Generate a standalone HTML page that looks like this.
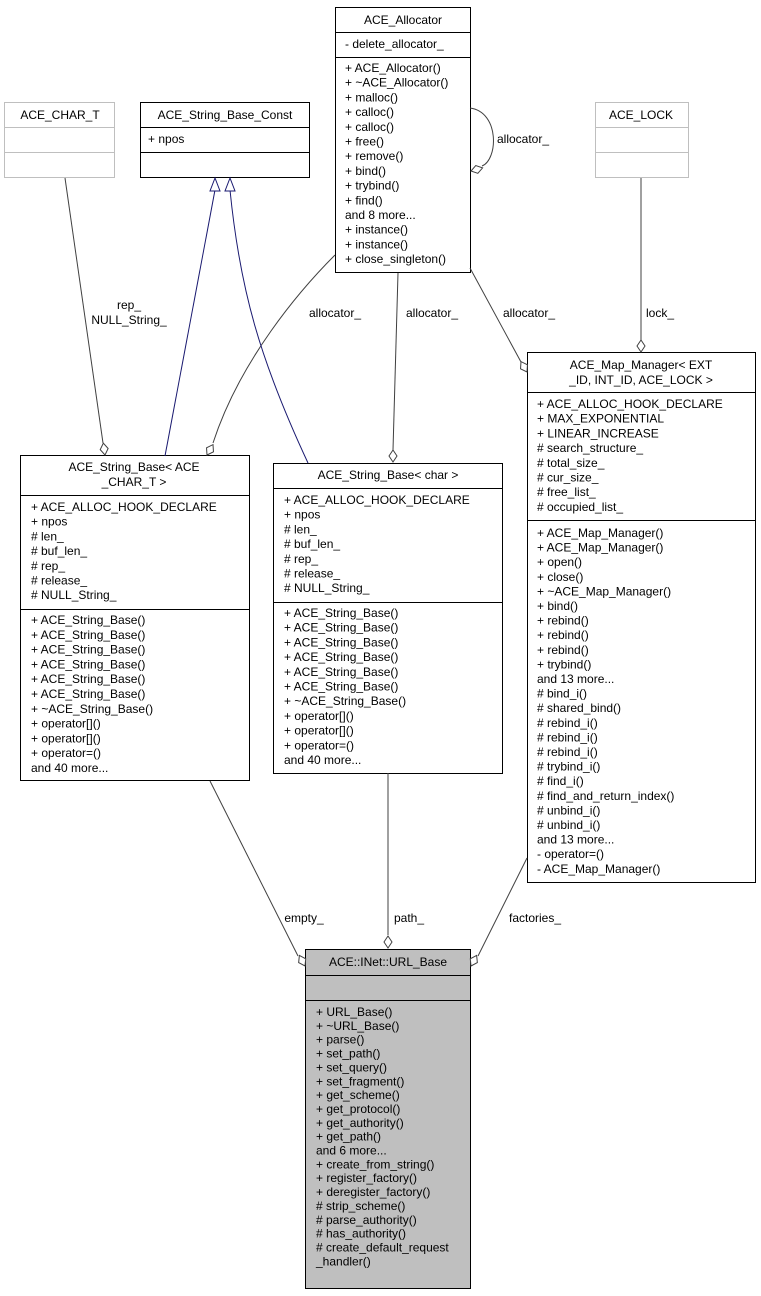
<!DOCTYPE html>
<html><head><meta charset="utf-8"><style>
html,body{margin:0;padding:0;background:#fff;}
svg{display:block;}
text{font-family:"Liberation Sans",Arial,sans-serif;font-size:12px;fill:#000;}
</style></head><body>
<svg width="761" height="1296" viewBox="0 0 761 1296" xmlns="http://www.w3.org/2000/svg">
<g fill="#fff" stroke-width="1">
<!-- ACE_CHAR_T -->
<rect x="4.5" y="102.5" width="110" height="75" stroke="#bfbfbf"/>
<line x1="4.5" y1="127.5" x2="114.5" y2="127.5" stroke="#bfbfbf"/>
<line x1="4.5" y1="152.5" x2="114.5" y2="152.5" stroke="#bfbfbf"/>
<!-- Const -->
<rect x="140.5" y="102.5" width="169" height="75" stroke="#000"/>
<line x1="140.5" y1="127.5" x2="309.5" y2="127.5" stroke="#000"/>
<line x1="140.5" y1="152.5" x2="309.5" y2="152.5" stroke="#000"/>
<!-- Allocator -->
<rect x="335.5" y="7.5" width="135" height="265" stroke="#000"/>
<line x1="335.5" y1="32.5" x2="470.5" y2="32.5" stroke="#000"/>
<line x1="335.5" y1="57.5" x2="470.5" y2="57.5" stroke="#000"/>
<!-- LOCK -->
<rect x="595.5" y="102.5" width="93" height="75" stroke="#bfbfbf"/>
<line x1="595.5" y1="127.5" x2="688.5" y2="127.5" stroke="#bfbfbf"/>
<line x1="595.5" y1="152.5" x2="688.5" y2="152.5" stroke="#bfbfbf"/>
<!-- SB ACE -->
<rect x="20.5" y="455.5" width="229" height="325" stroke="#000"/>
<line x1="20.5" y1="495.5" x2="249.5" y2="495.5" stroke="#000"/>
<line x1="20.5" y1="609.5" x2="249.5" y2="609.5" stroke="#000"/>
<!-- SB char -->
<rect x="273.5" y="463.5" width="229" height="310" stroke="#000"/>
<line x1="273.5" y1="488.5" x2="502.5" y2="488.5" stroke="#000"/>
<line x1="273.5" y1="602.5" x2="502.5" y2="602.5" stroke="#000"/>
<!-- Map -->
<rect x="527.5" y="352.5" width="228" height="530" stroke="#000"/>
<line x1="527.5" y1="392.5" x2="755.5" y2="392.5" stroke="#000"/>
<line x1="527.5" y1="520.5" x2="755.5" y2="520.5" stroke="#000"/>
<!-- URL -->
<rect x="305.5" y="949.5" width="165" height="339" stroke="#000" fill="#bfbfbf"/>
<line x1="305.5" y1="975.5" x2="470.5" y2="975.5" stroke="#000"/>
<line x1="305.5" y1="1000.5" x2="470.5" y2="1000.5" stroke="#000"/>
</g>

<!-- connectors -->
<g fill="none" stroke="#404040" stroke-width="1">
<path d="M65,178 L103,443"/>
<path d="M335,255 C300,290 240,360 213,443"/>
<path d="M398,273 L393,450"/>
<path d="M470,268 L521,362"/>
<path d="M470,108 C500,112 498,160 482,166"/>
<path d="M641,178 L641,340"/>
<path d="M210,781 L298,956"/>
<path d="M388,773 L388,935"/>
<path d="M527,858 L478,956"/>
</g>
<g fill="none" stroke="#191970" stroke-width="1">
<path d="M215,190 L165,456"/>
<path d="M230,190 C240,290 260,360 308,463"/>
</g>
<g fill="#fff" stroke="#191970">
<polygon points="215,178 210,191 220,191"/>
<polygon points="230,178 225,191 235,191"/>
</g>
<g fill="#fff" stroke="#404040">
<g transform="translate(105,455) rotate(82)"><polygon points="0,0 -6,-4 -12,0 -6,4"/></g>
<g transform="translate(207,455) rotate(120)"><polygon points="0,0 -6,-4 -12,0 -6,4"/></g>
<g transform="translate(393,462) rotate(90)"><polygon points="0,0 -6,-4 -12,0 -6,4"/></g>
<g transform="translate(527,372) rotate(60)"><polygon points="0,0 -6,-4 -12,0 -6,4"/></g>
<g transform="translate(471,171) rotate(165)"><polygon points="0,0 -6,-4 -12,0 -6,4"/></g>
<g transform="translate(641,352) rotate(90)"><polygon points="0,0 -6,-4 -12,0 -6,4"/></g>
<g transform="translate(305,966) rotate(62)"><polygon points="0,0 -6,-4 -12,0 -6,4"/></g>
<g transform="translate(388,948) rotate(90)"><polygon points="0,0 -6,-4 -12,0 -6,4"/></g>
<g transform="translate(471,966) rotate(118)"><polygon points="0,0 -6,-4 -12,0 -6,4"/></g>
</g>

<!-- labels -->
<g text-anchor="middle">
<text x="129" y="309">rep_</text>
<text x="129" y="324">NULL_String_</text>
<text x="335" y="317">allocator_</text>
<text x="432" y="317">allocator_</text>
<text x="529" y="317">allocator_</text>
<text x="523" y="143">allocator_</text>
<text x="660" y="317">lock_</text>
<text x="304" y="922">empty_</text>
<text x="409" y="922">path_</text>
<text x="535" y="922">factories_</text>
</g>

<!-- box texts -->
<g text-anchor="middle">
<text x="60" y="119">ACE_CHAR_T</text>
<text x="225" y="119">ACE_String_Base_Const</text>
<text x="403" y="24">ACE_Allocator</text>
<text x="641" y="119">ACE_LOCK</text>
<text x="641" y="369">ACE_Map_Manager&lt; EXT</text>
<text x="641" y="384">_ID, INT_ID, ACE_LOCK &gt;</text>
<text x="134" y="471">ACE_String_Base&lt; ACE</text>
<text x="134" y="486">_CHAR_T &gt;</text>
<text x="388" y="479">ACE_String_Base&lt; char &gt;</text>
<text x="388" y="966">ACE::INet::URL_Base</text>
</g>
<text x="148" y="143">+ npos</text>
<text x="345" y="48">- delete_allocator_</text>
<g>
<text x="345" y="72">+ ACE_Allocator()</text>
<text x="345" y="86.7">+ ~ACE_Allocator()</text>
<text x="345" y="101.4">+ malloc()</text>
<text x="345" y="116.1">+ calloc()</text>
<text x="345" y="130.8">+ calloc()</text>
<text x="345" y="145.5">+ free()</text>
<text x="345" y="160.2">+ remove()</text>
<text x="345" y="174.9">+ bind()</text>
<text x="345" y="189.6">+ trybind()</text>
<text x="345" y="204.3">+ find()</text>
<text x="345" y="219">and 8 more...</text>
<text x="345" y="233.7">+ instance()</text>
<text x="345" y="248.4">+ instance()</text>
<text x="345" y="263.1">+ close_singleton()</text>
</g>
<g>
<text x="31" y="511">+ ACE_ALLOC_HOOK_DECLARE</text>
<text x="31" y="525.7">+ npos</text>
<text x="31" y="540.4"># len_</text>
<text x="31" y="555.1"># buf_len_</text>
<text x="31" y="569.8"># rep_</text>
<text x="31" y="584.5"># release_</text>
<text x="31" y="599.2"># NULL_String_</text>
<text x="31" y="624">+ ACE_String_Base()</text>
<text x="31" y="638.8">+ ACE_String_Base()</text>
<text x="31" y="653.6">+ ACE_String_Base()</text>
<text x="31" y="668.4">+ ACE_String_Base()</text>
<text x="31" y="683.2">+ ACE_String_Base()</text>
<text x="31" y="698">+ ACE_String_Base()</text>
<text x="31" y="712.8">+ ~ACE_String_Base()</text>
<text x="31" y="727.6">+ operator[]()</text>
<text x="31" y="742.4">+ operator[]()</text>
<text x="31" y="757.2">+ operator=()</text>
<text x="31" y="772">and 40 more...</text>
</g>
<g>
<text x="284" y="504">+ ACE_ALLOC_HOOK_DECLARE</text>
<text x="284" y="518.7">+ npos</text>
<text x="284" y="533.4"># len_</text>
<text x="284" y="548.1"># buf_len_</text>
<text x="284" y="562.8"># rep_</text>
<text x="284" y="577.5"># release_</text>
<text x="284" y="592.2"># NULL_String_</text>
<text x="284" y="617">+ ACE_String_Base()</text>
<text x="284" y="631.7">+ ACE_String_Base()</text>
<text x="284" y="646.4">+ ACE_String_Base()</text>
<text x="284" y="661.1">+ ACE_String_Base()</text>
<text x="284" y="675.8">+ ACE_String_Base()</text>
<text x="284" y="690.5">+ ACE_String_Base()</text>
<text x="284" y="705.2">+ ~ACE_String_Base()</text>
<text x="284" y="719.9">+ operator[]()</text>
<text x="284" y="734.6">+ operator[]()</text>
<text x="284" y="749.3">+ operator=()</text>
<text x="284" y="764">and 40 more...</text>
</g>
<g>
<text x="537" y="408">+ ACE_ALLOC_HOOK_DECLARE</text>
<text x="537" y="422.7">+ MAX_EXPONENTIAL</text>
<text x="537" y="437.4">+ LINEAR_INCREASE</text>
<text x="537" y="452.1"># search_structure_</text>
<text x="537" y="466.8"># total_size_</text>
<text x="537" y="481.5"># cur_size_</text>
<text x="537" y="496.2"># free_list_</text>
<text x="537" y="510.9"># occupied_list_</text>
<text x="537" y="537">+ ACE_Map_Manager()</text>
<text x="537" y="551.6">+ ACE_Map_Manager()</text>
<text x="537" y="566.2">+ open()</text>
<text x="537" y="580.8">+ close()</text>
<text x="537" y="595.4">+ ~ACE_Map_Manager()</text>
<text x="537" y="610">+ bind()</text>
<text x="537" y="624.6">+ rebind()</text>
<text x="537" y="639.2">+ rebind()</text>
<text x="537" y="653.8">+ rebind()</text>
<text x="537" y="668.4">+ trybind()</text>
<text x="537" y="683">and 13 more...</text>
<text x="537" y="697.6"># bind_i()</text>
<text x="537" y="712.2"># shared_bind()</text>
<text x="537" y="726.8"># rebind_i()</text>
<text x="537" y="741.4"># rebind_i()</text>
<text x="537" y="756"># rebind_i()</text>
<text x="537" y="770.6"># trybind_i()</text>
<text x="537" y="785.2"># find_i()</text>
<text x="537" y="799.8"># find_and_return_index()</text>
<text x="537" y="814.4"># unbind_i()</text>
<text x="537" y="829"># unbind_i()</text>
<text x="537" y="843.6">and 13 more...</text>
<text x="537" y="858.2">- operator=()</text>
<text x="537" y="872.8">- ACE_Map_Manager()</text>
</g>
<g>
<text x="316" y="1016">+ URL_Base()</text>
<text x="316" y="1029.85">+ ~URL_Base()</text>
<text x="316" y="1043.7">+ parse()</text>
<text x="316" y="1057.55">+ set_path()</text>
<text x="316" y="1071.4">+ set_query()</text>
<text x="316" y="1085.25">+ set_fragment()</text>
<text x="316" y="1099.1">+ get_scheme()</text>
<text x="316" y="1112.95">+ get_protocol()</text>
<text x="316" y="1126.8">+ get_authority()</text>
<text x="316" y="1140.65">+ get_path()</text>
<text x="316" y="1154.5">and 6 more...</text>
<text x="316" y="1168.35">+ create_from_string()</text>
<text x="316" y="1182.2">+ register_factory()</text>
<text x="316" y="1196.05">+ deregister_factory()</text>
<text x="316" y="1209.9"># strip_scheme()</text>
<text x="316" y="1223.75"># parse_authority()</text>
<text x="316" y="1237.6"># has_authority()</text>
<text x="316" y="1251.45"># create_default_request</text>
<text x="316" y="1265.3">_handler()</text>
</g>
</svg>
</body></html>
